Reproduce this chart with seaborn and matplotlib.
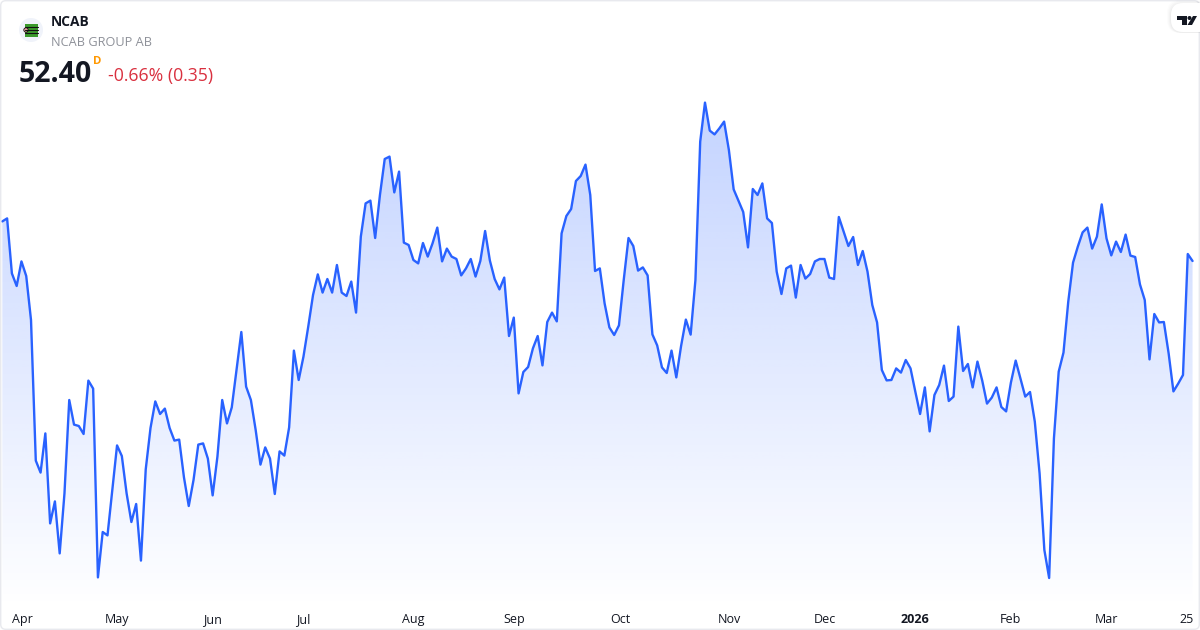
import numpy as np
import pandas as pd
import matplotlib
matplotlib.use("Agg")
import matplotlib.pyplot as plt
import seaborn as sns
from matplotlib.patches import Circle, FancyBboxPatch, Polygon, Rectangle

# closing prices, one per trading day
prices = [
    54.38, 54.53, 51.78, 51.15, 52.38, 51.65, 49.45, 42.42, 41.82, 43.78,
    39.28, 40.38, 37.78, 40.78, 45.45, 44.22, 44.15, 43.75, 46.42, 46.02,
    36.58, 38.85, 38.68, 40.95, 43.18, 42.65, 40.78, 39.35, 40.25, 37.42,
    41.98, 44.05, 45.38, 44.75, 45.02, 44.05, 43.42, 43.47, 41.58, 40.15,
    41.45, 43.22, 43.28, 42.52, 40.68, 42.62, 45.45, 44.28, 45.08, 46.95,
    48.85, 46.12, 45.45, 43.95, 42.22, 43.08, 42.52, 40.75, 42.88, 42.67,
    44.08, 47.92, 46.45, 47.62, 49.12, 50.70, 51.73, 50.82, 51.50, 50.82,
    52.20, 50.82, 50.65, 51.37, 49.82, 53.62, 55.28, 55.42, 53.55, 55.70,
    57.50, 57.62, 55.83, 56.87, 53.32, 53.20, 52.45, 52.28, 53.30, 52.62,
    53.28, 54.07, 52.38, 53.02, 52.62, 52.50, 51.68, 52.03, 52.50, 51.62,
    52.40, 53.90, 52.42, 51.50, 50.98, 51.57, 48.65, 49.57, 45.78, 46.85,
    47.10, 48.03, 48.65, 47.18, 49.35, 49.82, 49.38, 53.78, 54.65, 55.00,
    56.40, 56.65, 57.22, 55.70, 51.90, 52.03, 50.28, 49.08, 48.70, 49.18,
    51.45, 53.55, 53.15, 51.92, 52.08, 51.68, 48.73, 48.18, 47.08, 46.80,
    47.92, 46.58, 48.15, 49.47, 48.72, 51.45, 58.37, 60.32, 58.92, 58.73,
    59.03, 59.37, 57.95, 55.98, 55.42, 54.85, 53.08, 56.00, 55.70, 56.28,
    54.53, 54.30, 51.87, 50.75, 52.03, 52.17, 50.57, 52.20, 51.52, 51.75,
    52.38, 52.50, 52.50, 51.57, 51.50, 54.60, 53.87, 53.15, 53.60, 52.20,
    52.90, 51.87, 50.20, 49.33, 46.95, 46.43, 46.45, 47.03, 46.82, 47.45,
    47.03, 45.87, 44.75, 46.08, 43.88, 45.70, 46.20, 47.17, 45.40, 45.62,
    49.12, 46.90, 47.25, 46.08, 47.37, 46.42, 45.27, 45.57, 46.08, 45.10,
    44.88, 46.32, 47.42, 46.53, 45.62, 45.85, 44.37, 41.78, 37.95, 36.55,
    43.53, 46.87, 47.82, 50.37, 52.32, 53.12, 53.83, 54.07, 53.02, 53.62,
    55.23, 53.53, 52.68, 53.37, 52.85, 53.72, 52.67, 52.60, 51.23, 50.45,
    47.48, 49.75, 49.33, 49.35, 47.78, 45.88, 46.27, 46.70, 52.75, 52.40,
]
tick_days = [4.2, 24, 44, 63, 86, 107.2, 129.2, 152, 172, 191, 211, 231, 247.8]
tick_labels = ["Apr", "May", "Jun", "Jul", "Aug", "Sep", "Oct", "Nov", "Dec", "2026", "Feb", "Mar", "25"]

symbol = "NCAB"
company = "NCAB GROUP AB"
last_price = "52.40"
change_text = "-0.66% (0.35)"

df = pd.DataFrame({"day": np.arange(len(prices)), "close": prices})

sns.set_theme(style="white")
plt.rcParams["font.family"] = ["Open Sans", "Noto Sans", "DejaVu Sans"]

fig = plt.figure(figsize=(12, 6.3), dpi=100)
ax = fig.add_axes([0, 0, 1, 1])

# area under the line, a vertical fade clipped to the series
ylim = (33.95, 65.45)
fade = np.zeros((256, 2, 4))
fade[:, :, 0] = 41 / 255
fade[:, :, 1] = 98 / 255
fade[:, :, 2] = 1.0
fade[:, :, 3] = np.linspace(0.28, 0.0, 256)[:, None]
img = ax.imshow(fade, extent=(0, len(prices) - 1, 35.0, 60.4), origin="upper",
                aspect="auto", zorder=1, interpolation="bilinear")
area = ax.fill_between(df["day"], df["close"], 35.0, color="none", linewidth=0)
clip = area.get_paths()[0]
img.set_clip_path(clip, transform=ax.transData)

sns.lineplot(data=df, x="day", y="close", ax=ax, color="#2962ff", linewidth=1.7,
             zorder=3, errorbar=None)

ax.set_xlim(-0.487, 250.56)
ax.set_ylim(*ylim)
ax.set_xlabel("")
ax.set_ylabel("")
ax.set_yticks([])
ax.set_xticks(tick_days)
ax.set_xticklabels(tick_labels, fontsize=9, color="#131722")
ax.tick_params(axis="x", length=0, pad=-12.5)
for lab in ax.get_xticklabels():
    if lab.get_text() == "2026":
        lab.set_fontweight("bold")
sns.despine(ax=ax, left=True, bottom=True)

# overlay in pixel units for the header, badge and card border
over = fig.add_axes([0, 0, 1, 1], facecolor="none")
over.set_xlim(0, 1200)
over.set_ylim(630, 0)
over.axis("off")

over.add_patch(FancyBboxPatch((0.7, 0.7), 1198.6, 628.6, boxstyle="round,pad=0,rounding_size=5",
                              fill=False, edgecolor="#e8e9ee", linewidth=1.0))

over.add_patch(Circle((31, 30), 12, color="#f0f3fa", linewidth=0))
over.add_patch(Rectangle((25, 24), 13, 13, color="#3a9a2c", linewidth=0))
for yy in (27, 30, 33):
    over.plot([25, 38], [yy, yy], color="#111111", linewidth=0.8)
over.add_patch(Circle((26, 30), 2.2, facecolor="#e8a0a0", edgecolor="#111111", linewidth=0.6))

over.text(51, 22, symbol, fontsize=9.9, fontweight="bold", color="#131722", va="center", ha="left")
over.text(51, 42, company, fontsize=9.2, color="#8e9199", va="center", ha="left")
over.text(19, 74, last_price, fontsize=20.5, fontweight="bold", color="#131722", va="center", ha="left")
over.text(93, 62, "D", fontsize=8.2, fontweight="bold", color="#ff9800", va="center", ha="left")
over.text(108, 76, change_text, fontsize=12.7, color="#d9303f", va="center", ha="left")

# tradingview badge
for off, a in ((4, 0.012), (3, 0.015), (2, 0.02), (1, 0.025)):
    over.add_patch(FancyBboxPatch((1171 - off, 3 - off + 1), 40 + off, 29 + off,
                                  boxstyle="round,pad=0,rounding_size=13",
                                  facecolor="black", alpha=a, edgecolor="none"))
over.add_patch(FancyBboxPatch((1171, 3), 40, 29, boxstyle="round,pad=0,rounding_size=12",
                              facecolor="white", edgecolor="none"))
over.add_patch(Polygon([(1177, 16), (1187, 16), (1187, 25), (1182, 25), (1182, 20), (1177, 20)],
                       color="#131722", linewidth=0))
over.add_patch(Circle((1189.5, 18), 2, color="#131722", linewidth=0))
over.add_patch(Polygon([(1193, 16), (1197, 16), (1192, 25), (1187.5, 25)], color="#131722", linewidth=0))

fig.savefig("out.png", dpi=100)
